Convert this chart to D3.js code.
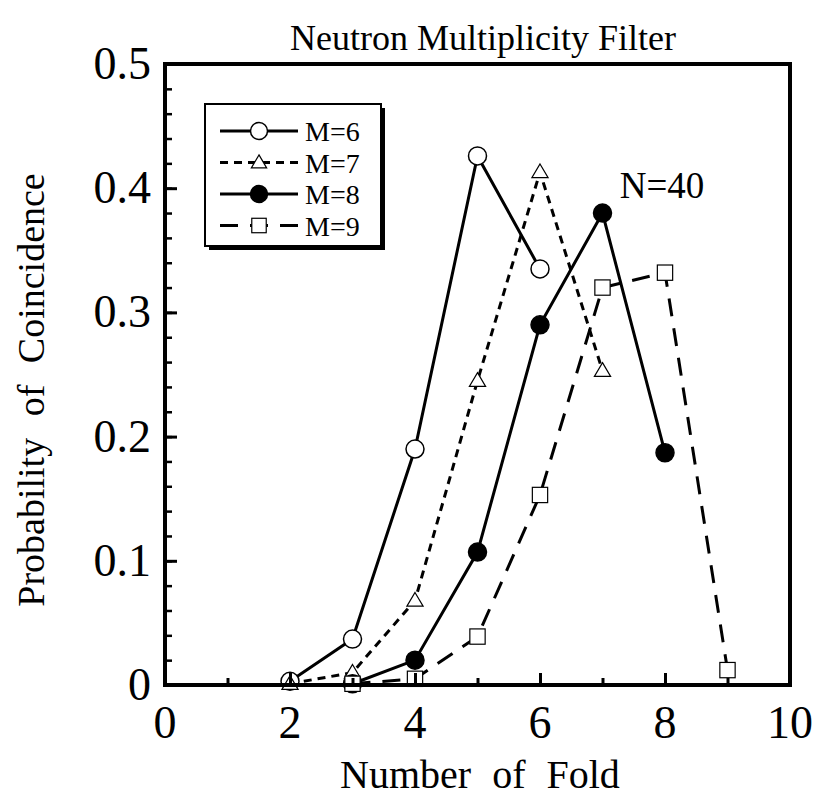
<!DOCTYPE html>
<html>
<head>
<meta charset="utf-8">
<script src="https://cdn.jsdelivr.net/npm/d3@7"></script>
<style>
  body { margin: 0; background: #fff; }
  text { font-family: "Liberation Serif", "DejaVu Serif", serif; fill: #000; }
</style>
</head>
<body>
<div id="chart"></div>
<script>
// data
const foldM6 = [2, 3, 4, 5, 6];
const probM6 = [0.003, 0.037, 0.19, 0.426, 0.335];
const foldM7 = [2, 3, 4, 5, 6, 7];
const probM7 = [0.001, 0.01, 0.068, 0.245, 0.413, 0.253];
const foldM8 = [3, 4, 5, 6, 7, 8];
const probM8 = [0.001, 0.02, 0.107, 0.29, 0.38, 0.187];
const foldM9 = [3, 4, 5, 6, 7, 8, 9];
const probM9 = [0.001, 0.005, 0.039, 0.153, 0.32, 0.332, 0.012];
const seriesLabels = ["M=6", "M=7", "M=8", "M=9"];
const xTicks = [0, 2, 4, 6, 8, 10];
const yTicks = [0, 0.1, 0.2, 0.3, 0.4, 0.5];

const width = 814;
const height = 796;
const margin = {top: 64, left: 165, right: 24, bottom: 111};

const svg = d3.select("#chart")
  .append("svg")
  .attr("width", width)
  .attr("height", height);

const xScale = d3.scaleLinear()
  .domain([0, 10])
  .range([margin.left, width - margin.right]);

const yScale = d3.scaleLinear()
  .domain([0, 0.5])
  .range([height - margin.bottom, margin.top]);

// series styles: marker type, dash
const series = [
  {label: seriesLabels[0], x: foldM6, y: probM6, marker: "circle", fill: "#fff", dash: null},
  {label: seriesLabels[1], x: foldM7, y: probM7, marker: "triangle", fill: "#fff", dash: "8,6"},
  {label: seriesLabels[2], x: foldM8, y: probM8, marker: "circle", fill: "#000", dash: null},
  {label: seriesLabels[3], x: foldM9, y: probM9, marker: "square", fill: "#fff", dash: "18,12"}
];

/***** lines *****/
const line = d3.line()
  .x(d => xScale(d[0]))
  .y(d => yScale(d[1]));

const plot = svg.append("g").attr("id", "plot");

series.forEach(s => {
  const pts = s.x.map((v, i) => [v, s.y[i]]);
  plot.append("path")
    .datum(pts)
    .attr("d", line)
    .attr("fill", "none")
    .attr("stroke", "#000")
    .attr("stroke-width", 3)
    .attr("stroke-dasharray", s.dash);
});

// markers
function drawMarker(g, s, cx, cy, size) {
  if (s.marker === "circle") {
    g.append("circle")
      .attr("cx", cx).attr("cy", cy).attr("r", size)
      .attr("fill", s.fill)
      .attr("stroke", "#000")
      .attr("stroke-width", 1.5);
  } else if (s.marker === "triangle") {
    const h = size * 0.9;
    g.append("path")
      .attr("d", `M${cx},${cy - h} L${cx + h},${cy + h * 0.7} L${cx - h},${cy + h * 0.7} Z`)
      .attr("fill", "#fff")
      .attr("stroke", "#000")
      .attr("stroke-width", 1.2);
  } else {
    g.append("rect")
      .attr("x", cx - size * 0.85).attr("y", cy - size * 0.85)
      .attr("width", size * 1.7).attr("height", size * 1.7)
      .attr("fill", "#fff")
      .attr("stroke", "#000")
      .attr("stroke-width", 1.2);
  }
}

series.forEach(s => {
  s.x.forEach((v, i) => drawMarker(plot, s, xScale(v), yScale(s.y[i]), 9));
});

/***** axes *****/
const x0 = xScale(0), x1 = xScale(10), y0 = yScale(0), y1 = yScale(0.5);

// x ticks (inward), major every 2, minor every 1
svg.append("g")
  .attr("transform", `translate(0, ${y0})`)
  .call(d3.axisBottom(xScale).tickValues(d3.range(1, 10, 2)).tickSize(-7).tickFormat(""))
  .call(g => g.select(".domain").remove())
  .selectAll("line").attr("stroke-width", 3);
svg.append("g")
  .attr("transform", `translate(0, ${y0})`)
  .call(d3.axisBottom(xScale).tickValues(xTicks.slice(1, -1)).tickSize(-12).tickFormat(""))
  .call(g => g.select(".domain").remove())
  .selectAll("line").attr("stroke-width", 3);

// y ticks (inward), major 0.1, minor 0.02
svg.append("g")
  .attr("transform", `translate(${x0}, 0)`)
  .call(d3.axisLeft(yScale).tickValues(d3.range(0.02, 0.5, 0.02)).tickSize(-7).tickFormat(""))
  .call(g => g.select(".domain").remove())
  .selectAll("line").attr("stroke-width", 2.5);
svg.append("g")
  .attr("transform", `translate(${x0}, 0)`)
  .call(d3.axisLeft(yScale).tickValues(yTicks.slice(1, -1)).tickSize(-12).tickFormat(""))
  .call(g => g.select(".domain").remove())
  .selectAll("line").attr("stroke-width", 3);

// frame
svg.append("rect")
  .attr("x", x0).attr("y", y1)
  .attr("width", x1 - x0).attr("height", y0 - y1)
  .attr("fill", "none")
  .attr("stroke", "#000")
  .attr("stroke-width", 4);

// tick labels
svg.selectAll(".xLabel")
  .data(xTicks)
  .enter()
  .append("text")
  .attr("class", "xLabel")
  .attr("x", d => xScale(d))
  .attr("y", y0 + 53)
  .attr("text-anchor", "middle")
  .attr("font-size", 46)
  .text(d => d);

svg.selectAll(".yLabel")
  .data(yTicks)
  .enter()
  .append("text")
  .attr("class", "yLabel")
  .attr("x", x0 - 14)
  .attr("y", d => yScale(d) + 15)
  .attr("text-anchor", "end")
  .attr("font-size", 46)
  .text(d => d === 0 ? "0" : d3.format(".1f")(d));

// axis titles
svg.append("text")
  .attr("x", 480)
  .attr("y", 788)
  .attr("text-anchor", "middle")
  .attr("font-size", 40)
  .attr("word-spacing", 11)
  .text("Number of Fold");

svg.append("text")
  .attr("transform", `translate(44, 390) rotate(-90)`)
  .attr("text-anchor", "middle")
  .attr("font-size", 38)
  .attr("word-spacing", 12)
  .text("Probability of Coincidence");

// title
svg.append("text")
  .attr("x", 483)
  .attr("y", 50)
  .attr("text-anchor", "middle")
  .attr("font-size", 36)
  .text("Neutron Multiplicity Filter");

svg.append("text")
  .attr("x", 662)
  .attr("y", 198)
  .attr("text-anchor", "middle")
  .attr("font-size", 37)
  .text("N=40");

/***** legend *****/
const legend = svg.append("g").attr("id", "legend");
const lx = 205, ly = 104, lw = 176, lh = 142;

legend.append("rect")
  .attr("x", lx + 4).attr("y", ly + 4)
  .attr("width", lw).attr("height", lh)
  .attr("fill", "#000");
legend.append("rect")
  .attr("x", lx).attr("y", ly)
  .attr("width", lw).attr("height", lh)
  .attr("fill", "#fff")
  .attr("stroke", "#000")
  .attr("stroke-width", 2);

series.forEach((s, i) => {
  const ry = 131 + i * 31.5;
  legend.append("line")
    .attr("x1", lx + 15).attr("x2", lx + 93)
    .attr("y1", ry).attr("y2", ry)
    .attr("stroke", "#000")
    .attr("stroke-width", 3)
    .attr("stroke-dasharray", s.dash);
  drawMarker(legend, s, lx + 54, ry, 8.5);
  legend.append("text")
    .attr("x", lx + 100)
    .attr("y", ry + 10)
    .attr("font-size", 28)
    .text(s.label);
});
</script>
</body>
</html>
